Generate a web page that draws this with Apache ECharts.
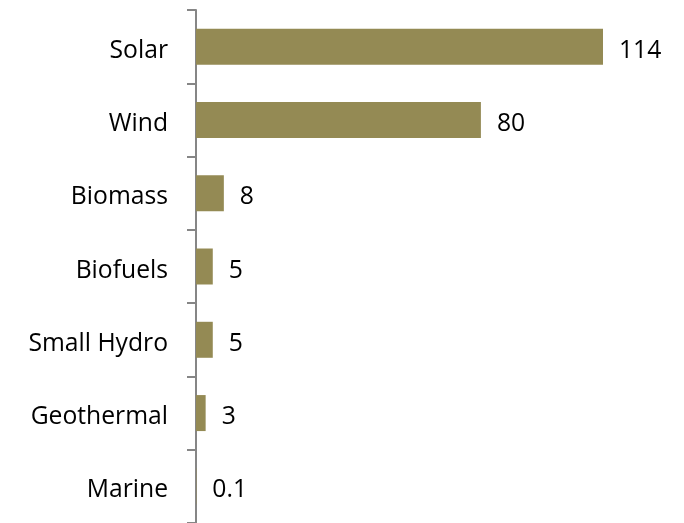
<!DOCTYPE html>
<html><head><meta charset="utf-8">
<script src="https://cdn.jsdelivr.net/npm/echarts@6/dist/echarts.min.js"></script>
<style>html,body{margin:0;padding:0;background:#fff}#c{width:684px;height:523px}</style>
</head><body><div id="c"></div>
<script>
const categories = ["Solar", "Wind", "Biomass", "Biofuels", "Small Hydro", "Geothermal", "Marine"];
const values = [114, 79.8, 7.8, 4.7, 4.7, 2.7, 0.1];
const labels = ["114", "80", "8", "5", "5", "3", "0.1"];

const chart = echarts.init(document.getElementById('c'));
chart.setOption({
  animation: false,
  grid: { left: 196, top: 10, width: 407, height: 518, containLabel: false },
  xAxis: { type: 'value', min: 0, max: 114, show: false },
  yAxis: {
    type: 'category', data: categories, inverse: true,
    axisLine: { show: true, lineStyle: { color: '#868686', width: 2 } },
    axisTick: { show: true, length: 9, lineStyle: { color: '#868686', width: 2 } },
    axisLabel: { margin: 28, color: '#000', fontFamily: 'Open Sans', fontSize: 24.7,
      verticalAlign: 'top', lineHeight: 8 }
  },
  series: [{
    type: 'bar', data: values, barWidth: 36,
    itemStyle: { color: '#948A54' },
    label: { show: true, position: 'right', distance: 16, color: '#000', fontFamily: 'Open Sans', fontSize: 24.7,
      offset: [0, 4], formatter: p => labels[p.dataIndex] }
  }]
});
</script></body></html>
